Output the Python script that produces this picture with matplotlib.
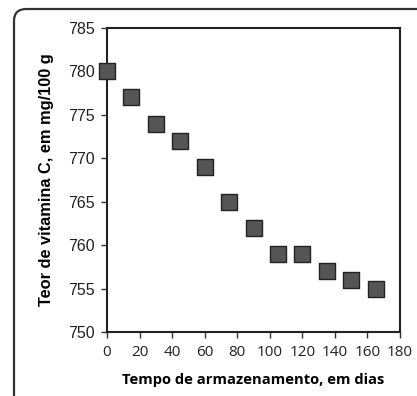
import matplotlib.pyplot as plt
from matplotlib.patches import FancyBboxPatch

dias = [0, 15, 30, 45, 60, 75, 90, 105, 120, 135, 150, 165]
teor = [780, 777, 774, 772, 769, 765, 762, 759, 759, 757, 756, 755]
xticks = [0, 20, 40, 60, 80, 100, 120, 140, 160, 180]
yticks = [750, 755, 760, 765, 770, 775, 780, 785]

W, H = 417, 396
fig = plt.figure(figsize=(W / 100, H / 100), dpi=100)
ax = fig.add_axes([107 / W, 1 - 332 / H, (400 - 107) / W, (332 - 28) / H])

# outer rounded frame (continues past right and bottom edges)
frame = FancyBboxPatch((14 / W, -0.05), 1.1, 1 - 9 / H + 0.05,
                       boxstyle="round,pad=0,rounding_size=0.03",
                       transform=fig.transFigure, fill=False,
                       edgecolor='#333333', linewidth=1.6, clip_on=False)
fig.patches.append(frame)

ax.scatter(dias, teor, marker='s', s=120, color='#555555',
           edgecolors='#222222', linewidths=1.0, zorder=3, clip_on=False)

ax.set_xlim(0, 180)
ax.set_ylim(750, 785)
ax.set_xticks(xticks, [str(v) for v in xticks], family='Open Sans', fontsize=11)
ax.set_yticks(yticks, [str(v) for v in yticks], family='Liberation Sans', fontsize=11.5)
for s in ax.spines.values():
    s.set_linewidth(1.5)
    s.set_color('#222222')
ax.tick_params(direction='out', length=4, width=1, colors='#333333',
               labelcolor='#222222', pad=5)

ax.set_ylabel('Teor de vitamina C, em mg/100 g', fontsize=11.8,
              fontweight='bold', family='Liberation Sans', labelpad=10)
ax.set_xlabel('Tempo de armazenamento, em dias', fontsize=10.6,
              fontweight='bold', family='Open Sans', labelpad=10)

fig.savefig('out.png', dpi=100)
